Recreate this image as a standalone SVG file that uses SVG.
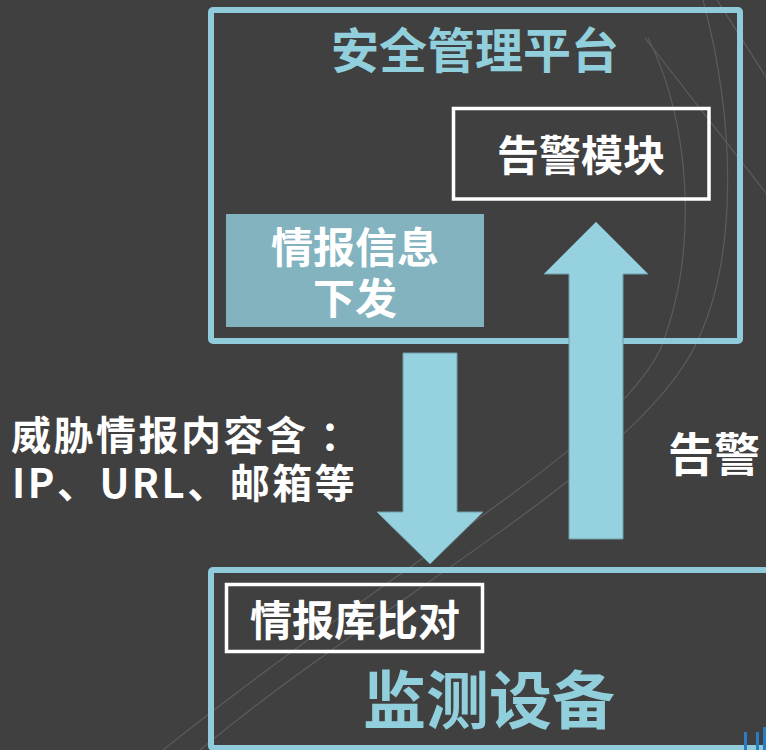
<svg xmlns="http://www.w3.org/2000/svg" width="766" height="750" viewBox="0 0 766 750">
<style>
.t{font-family:"Noto Sans CJK SC","Noto Sans",sans-serif;font-weight:bold;text-anchor:middle}
.w{fill:#ffffff}
.b{fill:#92cfdd}
.frame{fill:none;stroke:#8fcbda;stroke-width:6}
.wbox{fill:none;stroke:#ffffff;stroke-width:3.5}
.bg{fill:none;stroke:#5c5c5c;stroke-width:1.2}
.arrow{fill:#96d1df;stroke:#6f9ea9;stroke-width:1}
.lbl{text-anchor:start;letter-spacing:2.5px}
</style>
<rect x="0" y="0" width="766" height="750" fill="#404040"/>
<g id="background">
<path class="bg" d="M648,38 C690,120 700,250 660,350 C610,450 400,560 163,750"/>
<path class="bg" d="M703,0 C735,120 740,260 693,350 C630,470 380,600 200,750"/>
<path class="bg" d="M717,0 L766,77"/>
<path class="bg" d="M645,38 L766,193"/>
</g>
<g id="platform">
<rect class="frame" x="211" y="10" width="529" height="331" rx="2"/>
<text class="t b" x="475" y="68" font-size="48">安全管理平台</text>
</g>
<g id="alarm-module">
<rect class="wbox" x="453.5" y="108.5" width="255.5" height="90.5"/>
<text class="t w" x="581" y="171" font-size="42">告警模块</text>
</g>
<g id="intel-dispatch">
<rect x="226" y="214" width="258" height="113" fill="#82b3bf"/>
<text class="t w" x="355" y="263" font-size="42">情报信息</text>
<text class="t w" x="355" y="314" font-size="42">下发</text>
</g>
<g id="monitor-device">
<rect class="frame" x="211" y="570" width="620" height="178" rx="2"/>
<text class="t b" x="489" y="723" font-size="63">监测设备</text>
</g>
<g id="intel-compare">
<rect class="wbox" x="226.5" y="584.5" width="256" height="67"/>
<text class="t w" x="355" y="636" font-size="42">情报库比对</text>
</g>
<g id="connectors">
<polygon class="arrow" points="403,353 457,353 457,512 483,512 430,564 377,512 403,512"/>
<polygon class="arrow" points="596,222 648,274 623,274 623,539 569,539 569,274 544,274"/>
<text class="t w lbl" x="11" y="450" font-size="40">威胁情报内容含 ：</text>
<text class="t w lbl" x="12" y="498" font-size="40">IP、URL、邮箱等</text>
<text class="t w" x="668" y="471" font-size="46" style="text-anchor:start">告警</text>
</g>
<g id="corner-mark" fill="#2a7cc4">
<rect x="744" y="732" width="3" height="18"/>
<rect x="756" y="732" width="3" height="18"/>
<rect x="763" y="727" width="3" height="23"/>
</g>
</svg>
